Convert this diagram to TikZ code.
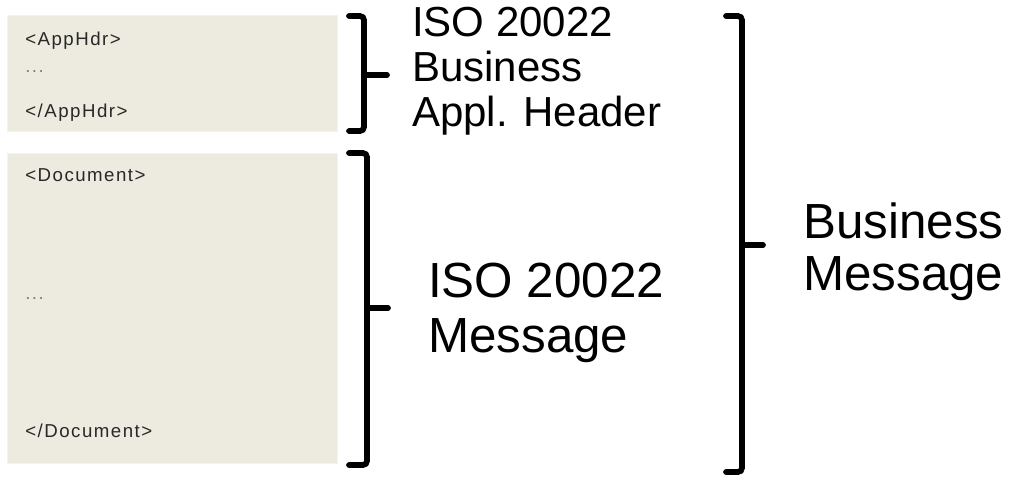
\documentclass[tikz,border=0pt]{standalone}
\usepackage{fontspec}
\setmainfont{Liberation Sans}
\newfontfamily\boxfont[LetterSpace=8]{Liberation Sans}
\definecolor{boxfill}{RGB}{237,235,224}
\definecolor{boxline}{RGB}{245,243,234}
\definecolor{codetext}{RGB}{40,40,40}
\begin{document}
\begin{tikzpicture}[x=0.75pt,y=-0.75pt,
  xmlbox/.style={fill=boxfill,draw=boxline,line width=0.75pt},
  code/.style={anchor=base west,inner sep=0pt,text=codetext,font=\boxfont\fontsize{14pt}{16pt}\selectfont},
  lblA/.style={anchor=base west,inner sep=0pt,font=\fontsize{31.5pt}{34pt}\selectfont},
  lblB/.style={anchor=base west,inner sep=0pt,font=\fontsize{37pt}{40pt}\selectfont},
  brace/.style={line width=4.3pt,rounded corners=3pt,line cap=round},
  tick/.style={line width=4.3pt,line cap=round}]
\useasboundingbox (0,0) rectangle (1014,479);
% boxes
\node[xmlbox,minimum width=330*0.75pt,minimum height=116*0.75pt,anchor=north west,inner sep=0pt] (hdrbox) at (7,15) {};
\node[xmlbox,minimum width=330*0.75pt,minimum height=310*0.75pt,anchor=north west,inner sep=0pt] (docbox) at (7,153) {};
% code text
\node[code] (h1) at (25,45) {<AppHdr>};
\node[code,text=gray] (h2) at (25,72) {...};
\node[code] (h3) at (25,117) {</AppHdr>};
\node[code] (d1) at (25,181) {<Document>};
\node[code,text=gray] (d2) at (25,299) {...};
\node[code] (d3) at (25,437) {</Document>};
% braces
\coordinate (b1t) at (349,16);
\coordinate (b1b) at (349,131);
\coordinate (b1m) at (387,75);
\draw[brace] (b1t) -- (364,16) -- (364,131) -- (b1b);
\draw[tick] (364,75) -- (b1m);
\coordinate (b2t) at (349,153);
\coordinate (b2b) at (349,465);
\coordinate (b2m) at (388,308);
\draw[brace] (b2t) -- (367,153) -- (367,465) -- (b2b);
\draw[tick] (367,308) -- (b2m);
\coordinate (b3t) at (726,16);
\coordinate (b3b) at (726,472);
\coordinate (b3m) at (763,245);
\draw[brace] (b3t) -- (742,16) -- (742,472) -- (b3b);
\draw[tick] (742,245) -- (b3m);
% labels
\node[lblA] (a1) at (412,36) {ISO 20022};
\node[lblA] (a2) at (412,81) {Business};
\node[lblA] (a3) at (412,126) {Appl. Header};
\node[lblB] (m1) at (428,297) {ISO 20022};
\node[lblB] (m2) at (428,352) {Message};
\node[lblB] (r1) at (803,238) {Business};
\node[lblB] (r2) at (803,290) {Message};
\end{tikzpicture}
\end{document}
